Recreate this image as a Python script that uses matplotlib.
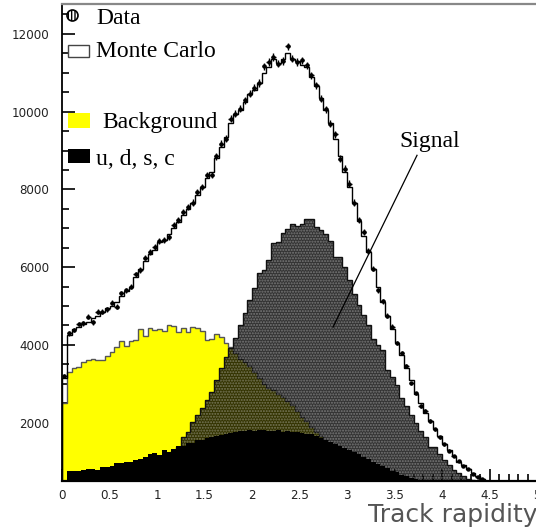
import numpy as np
import matplotlib
matplotlib.use("Agg")
import matplotlib.pyplot as plt
from matplotlib.patches import Rectangle, Ellipse
from matplotlib.ticker import MultipleLocator, FixedLocator, FixedFormatter

# ---------------- data ----------------
bin_edges = np.linspace(0.0, 5.0, 101)

data_counts = [3200, 4300, 4380, 4535, 4553, 4722, 4580, 4851, 4851, 4913,
               5083, 4980, 5324, 5409, 5494, 5820, 5923, 6249, 6385, 6521,
               6676, 6694, 6778, 7079, 7208, 7421, 7550, 7663, 7935, 8064,
               8364, 8364, 8853, 9178, 9307, 9821, 9950, 10078, 10292, 10464,
               10618, 10738, 11166, 11276, 11405, 11235, 11303, 11680, 11363, 11276,
               11320, 11191, 10934, 10677, 10335, 10060, 9693, 9418, 8794, 8537,
               8151, 7663, 7208, 6907, 6411, 5966, 5409, 5126, 4748, 4466,
               4054, 3797, 3455, 3010, 2754, 2435, 2299, 2042, 1829, 1623,
               1443, 1279, 1143, 1014, 893, 801, 680, 610, 540, 480]

monte_carlo = [3150, 4250, 4400, 4450, 4550, 4600, 4700, 4750, 4850, 4950,
               5000, 5100, 5250, 5400, 5500, 5750, 5950, 6150, 6350, 6450,
               6650, 6700, 6850, 7000, 7150, 7350, 7500, 7650, 7850, 8050,
               8300, 8450, 8800, 9100, 9350, 9700, 9950, 10050, 10250, 10450,
               10550, 10750, 11000, 11150, 11350, 11250, 11350, 11500, 11350, 11300,
               11200, 11150, 10900, 10650, 10350, 10050, 9700, 9300, 8850, 8450,
               8050, 7650, 7200, 6800, 6400, 5950, 5500, 5100, 4750, 4400,
               4050, 3750, 3400, 3100, 2750, 2500, 2250, 2050, 1850, 1650,
               1450, 1300, 1150, 1000, 900, 800, 700, 620, 560, 510,
               450, 400, 350, 300, 250, 200, 150, 100, 60, 30]

background = [2497, 3309, 3412, 3438, 3566, 3610, 3627, 3610, 3610, 3720,
              3823, 3951, 4098, 3970, 4098, 4124, 4398, 4226, 4424, 4381,
              4398, 4363, 4509, 4483, 4337, 4424, 4337, 4450, 4424, 4363,
              4124, 4141, 4270, 4209, 4055, 3950, 3800, 3650, 3550, 3450,
              3300, 3150, 3000, 2900, 2850, 2750, 2650, 2550, 2450, 2300,
              2150, 2050, 1900, 1750, 1650, 1550, 1450, 1350, 1250, 1150,
              1050, 980, 900, 820, 750, 680, 620, 560, 500, 450,
              400, 350, 300, 250, 200, 160, 120, 90, 60, 40,
              30, 20, 10, 5, 0, 0, 0, 0, 0, 0,
              0, 0, 0, 0, 0, 0, 0, 0, 0, 0]

signal = [0, 60, 80, 100, 120, 150, 180, 210, 250, 290,
          330, 380, 430, 490, 550, 620, 690, 760, 840, 920,
          1000, 1080, 1160, 1260, 1382, 1639, 1767, 2024, 2196, 2368,
          2582, 2797, 3095, 3396, 3695, 3910, 4167, 4520, 4830, 5160,
          5452, 5850, 5940, 6180, 6630, 6640, 6882, 6995, 7105, 7054,
          7105, 7251, 7251, 7035, 6969, 6866, 6680, 6265, 6265, 6008,
          5666, 5306, 5023, 4766, 4520, 4150, 4010, 3867, 3352, 3180,
          2967, 2625, 2428, 2196, 1999, 1793, 1623, 1382, 1382, 1194,
          1040, 911, 783, 697, 620, 560, 520, 480, 430, 380,
          330, 280, 230, 180, 140, 100, 70, 40, 20, 10]

udsc = [0, 760, 765, 770, 790, 810, 805, 780, 860, 870,
        880, 960, 975, 990, 1000, 1050, 1060, 1120, 1200, 1210,
        1170, 1290, 1250, 1320, 1390, 1410, 1480, 1490, 1550, 1560,
        1600, 1620, 1660, 1690, 1720, 1730, 1760, 1780, 1790, 1800,
        1790, 1810, 1800, 1790, 1780, 1800, 1770, 1790, 1760, 1750,
        1730, 1720, 1700, 1650, 1600, 1560, 1500, 1460, 1400, 1350,
        1300, 1240, 1200, 1130, 1060, 1000, 940, 890, 830, 770,
        720, 660, 620, 580, 550, 530, 520, 500, 480, 460,
        440, 420, 400, 380, 360, 340, 320, 300, 280, 260,
        240, 220, 200, 180, 160, 140, 120, 100, 80, 60]

x_tick_vals = [0, 0.5, 1, 1.5, 2, 2.5, 3, 3.5, 4, 4.5, 5]
x_tick_labels = ["0", "0.5", "1", "1.5", "2", "2.5", "3", "3.5", "4", "4.5", "5"]
y_tick_vals = [2000, 4000, 6000, 8000, 10000, 12000]
y_tick_labels = ["2000", "4000", "6000", "8000", "10000", "12000"]

legend_labels = ["Data", "Monte Carlo", "Background", "u, d, s, c"]

# ---------------- figure ----------------
W, H = 536, 531
fig = plt.figure(figsize=(W / 100, H / 100), dpi=100)
fig.patch.set_facecolor("white")
ax = fig.add_axes([62 / W, (H - 481) / H, 475 / W, 477 / H])
ax.set_xlim(0, 5)
ax.set_ylim(500, 12770)

serif = ["Liberation Serif", "DejaVu Serif"]

# Monte Carlo total
ax.stairs(monte_carlo, bin_edges, baseline=0, fill=True, facecolor="white", zorder=1)
ax.stairs(monte_carlo, bin_edges, baseline=0, fill=False, edgecolor="black", lw=1.0, zorder=6)

# Background (yellow)
ax.stairs(background, bin_edges, baseline=0, fill=True, facecolor="#ffff00", zorder=2)
ax.stairs(background, bin_edges, baseline=0, fill=False, edgecolor="#555555", lw=1.0, zorder=2.1)

# Signal (dark dotted pattern)
ax.stairs(signal, bin_edges, baseline=0, fill=True, facecolor=(0, 0, 0, 0.8), zorder=3)
ax.stairs(signal, bin_edges, baseline=0, fill=True, facecolor="none", edgecolor=(0.85, 0.85, 0.85, 0.4),
          hatch="......", lw=0, zorder=3.1)
ax.stairs(signal, bin_edges, baseline=0, fill=False, edgecolor="#111111", lw=1.0, zorder=3.2)

# u, d, s, c (black)
ax.stairs(udsc, bin_edges, baseline=0, fill=True, facecolor="black", zorder=4)

# Data points
centers = (bin_edges[:-1] + bin_edges[1:]) / 2
n = len(data_counts)
dc = np.array(data_counts, dtype=float)
ax.errorbar(centers[:n], dc, xerr=0.025, yerr=np.sqrt(dc) * 0.9, fmt="o", ms=2.2,
            color="black", ecolor="black", elinewidth=1.0, capsize=0, zorder=7)

# Signal annotation
ax.plot([3.737, 2.853], [8878, 4458], color="black", lw=0.9, zorder=8)
ax.text(3.874, 9092, "Signal", ha="center", va="baseline", fontsize=17, family=serif, zorder=8)

# Axes styling
ax.spines["right"].set_visible(False)
ax.spines["left"].set_color("black")
ax.spines["left"].set_linewidth(1.3)
ax.spines["bottom"].set_color("black")
ax.spines["bottom"].set_linewidth(1.6)
ax.spines["top"].set_color("#888888")
ax.spines["top"].set_linewidth(1.6)
for s in ax.spines.values():
    s.set_zorder(10)

ax.xaxis.set_major_locator(FixedLocator(x_tick_vals))
ax.xaxis.set_major_formatter(FixedFormatter(x_tick_labels))
ax.xaxis.set_minor_locator(MultipleLocator(0.1))
ax.yaxis.set_major_locator(FixedLocator(y_tick_vals))
ax.yaxis.set_major_formatter(FixedFormatter(y_tick_labels))
ax.yaxis.set_minor_locator(MultipleLocator(500))
ax.tick_params(which="both", direction="in", top=False, right=False, color="black", width=1.2)
ax.tick_params(which="major", length=9)
ax.tick_params(which="minor", length=5)
ax.tick_params(axis="y", which="major", pad=9, labelsize=8.6, labelcolor="#222222")
ax.tick_params(axis="x", which="major", pad=6, labelsize=8.6, labelcolor="#222222")
for lab in ax.get_xticklabels() + ax.get_yticklabels():
    lab.set_family("DejaVu Sans")

# x label
fig.text(537 / W, 1 - 522 / H, "Track rapidity", ha="right", va="baseline",
         fontsize=18, color="#555555", family="DejaVu Sans")

# ---------------- legend (hand placed) ----------------
def fx(px):
    return px / W

def fy(py):
    return 1 - py / H

circ = Ellipse((fx(72.5), fy(15.5)), 11 / W, 11 / H, transform=fig.transFigure,
               facecolor="white", edgecolor="black", hatch="|||||", lw=1.2)
fig.add_artist(circ)
fig.add_artist(Rectangle((fx(67.7), fy(57.3)), 21.6 / W, 12.3 / H, transform=fig.transFigure,
                         facecolor="white", edgecolor="#444444", lw=1.0))
fig.add_artist(Rectangle((fx(67.7), fy(128.3)), 22.3 / W, 15 / H, transform=fig.transFigure,
                         facecolor="#ffff00", edgecolor="none"))
fig.add_artist(Rectangle((fx(67.7), fy(163.3)), 22.3 / W, 14.3 / H, transform=fig.transFigure,
                         facecolor="black", edgecolor="none"))

fig.text(fx(96), fy(24.5), legend_labels[0], fontsize=17, family=serif, va="baseline")
fig.text(fx(96), fy(56.7), legend_labels[1], fontsize=17, family=serif, va="baseline")
fig.text(fx(102), fy(128), legend_labels[2], fontsize=17, family=serif, va="baseline")
fig.text(fx(96), fy(165), legend_labels[3], fontsize=17, family=serif, va="baseline")

fig.savefig("out.png", dpi=100)
